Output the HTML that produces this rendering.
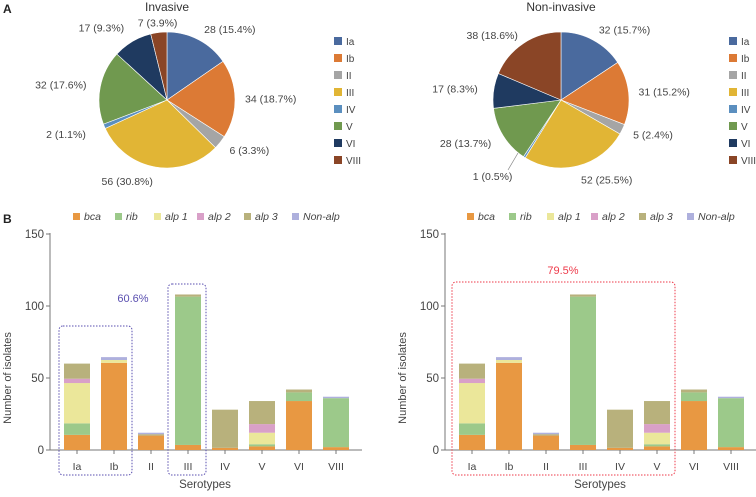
<!DOCTYPE html>
<html><head><meta charset="utf-8"><style>
body{margin:0;background:#fff;font-family:"Liberation Sans",sans-serif;}
svg text{font-family:"Liberation Sans",sans-serif;}
</style></head><body>
<svg id="c" width="756" height="492" viewBox="0 0 756 492" xmlns="http://www.w3.org/2000/svg">
<text x="3" y="13" font-size="12" font-weight="bold" fill="#222">A</text>
<text x="3" y="223" font-size="12" font-weight="bold" fill="#222">B</text>
</svg>
<script>
const serotypes=['Ia','Ib','II','III','IV','V','VI','VIII'];
const pieColors=['#4a6a9e','#dc7a35','#a5a5a5','#e1b535','#5b8fbf','#70994f','#1f3a60','#8a4526'];
const invasiveCounts=[28,34,6,56,2,32,17,7];
const invasivePct=['15.4','18.7','3.3','30.8','1.1','17.6','9.3','3.9'];
const nonInvasiveCounts=[32,31,5,52,1,28,17,38];
const nonInvasivePct=['15.7','15.2','2.4','25.5','0.5','13.7','8.3','18.6'];
const geneNames=['bca','rib','alp 1','alp 2','alp 3','Non-alp'];
const geneColors=['#e89842','#9cc98a','#ebe79a','#d9a0c8','#b8b17c','#aeb0dd'];
const bca=[10.5,60.5,10,3.5,1.5,2.5,34,2];
const rib=[8,0,0,103,0,1.5,6,34];
const alp1=[28,2,0,0,0,8,0,0];
const alp2=[3,0,0,0,0,6,0,0];
const alp3=[10.5,0,1,1.5,26.5,16,2,0];
const nonAlp=[0,2,1,0,0,0,0,1];
const yTicks=[0,50,100,150];
const pctLeft='60.6%', pctRight='79.5%';

const svg=document.getElementById('c');
const NS='http://www.w3.org/2000/svg';
function mk(tag,attrs,parent){const e=document.createElementNS(NS,tag);for(const k in attrs)e.setAttribute(k,attrs[k]);(parent||svg).appendChild(e);return e;}
function txt(x,y,s,attrs){const t=mk('text',Object.assign({x:x,y:y,'font-size':11,fill:'#444'},attrs||{}));t.textContent=s;return t;}

function pie(cx,cy,r,counts,pcts,title,lx,labelPos){
  const g=mk('g',{});
  
  
  const tt=txt(cx,11,title,{'text-anchor':'middle','font-size':12,fill:'#333'});
  
  
  const total=counts.reduce((a,b)=>a+b,0);
  let a0=0;
  counts.forEach((v,i)=>{
    const a1=a0+v/total*2*Math.PI;
    const x0=cx+r*Math.sin(a0),y0=cy-r*Math.cos(a0),x1=cx+r*Math.sin(a1),y1=cy-r*Math.cos(a1);
    const p=mk('path',{d:`M${cx},${cy}L${x0},${y0}A${r},${r} 0 ${a1-a0>Math.PI?1:0} 1 ${x1},${y1}Z`,fill:pieColors[i],stroke:'#fff','stroke-width':0.6},g);
    
    
    const am=(a0+a1)/2;
    const lr=r+labelPos[i];
    const lxp=cx+lr*Math.sin(am), lyp=cy-lr*Math.cos(am)+4;
    const anchor=Math.sin(am)>0.15?'start':(Math.sin(am)<-0.15?'end':'middle');
    const l=txt(lxp,lyp,v+' ('+pcts[i]+'%)',{'text-anchor':anchor,'font-size':10.5},);
    
    
    a0=a1;
  });
  serotypes.forEach((s,i)=>{
    const y=37+i*17;
    const sq=mk('rect',{x:lx,y:y,width:8,height:8,fill:pieColors[i]});
    
    
    const t=txt(lx+12,y+8,s,{'font-size':10});
    
    
  });
}
pie(167,100,68,invasiveCounts,invasivePct,'Invasive',334,[12,10,12,14,20,14,16,10]);
pie(561,100,68,nonInvasiveCounts,nonInvasivePct,'Non-invasive',729,[12,10,12,14,22,14,16,10]);
const ll=mk('line',{x1:518,y1:153,x2:508,y2:170,stroke:'#888','stroke-width':0.7});



function barChart(ox,legendXs,box){
  const ax=ox+50, y0=450, k=1.44;
  const Y=v=>y0-v*k;
  const X=i=>ox+77+i*37;
  const g=mk('g',{});
  
  
  geneNames.forEach((n,i)=>{
    const sq=mk('rect',{x:ox+legendXs[i],y:213,width:7,height:7,fill:geneColors[i]},g);
    
    
    const t=txt(ox+legendXs[i]+11,220,n,{'font-style':'italic','font-size':10.5});
    
    
  });
  const yax=mk('line',{x1:ax,y1:233,x2:ax,y2:y0,stroke:'#777','stroke-width':1},g);
  
  
  const xax=mk('line',{x1:ax,y1:y0,x2:ox+362,y2:y0,stroke:'#777','stroke-width':1},g);
  
  
  yTicks.forEach(v=>{
    const tk=mk('line',{x1:ax-4,y1:Y(v),x2:ax,y2:Y(v),stroke:'#777'},g);
    
    
    const t=txt(ax-6,Y(v)+4,String(v),{'text-anchor':'end','font-size':11.5});
    
    
  });
  const yt=txt(0,0,'Number of isolates',{'text-anchor':'middle','font-size':11,transform:`translate(${ox+11},${Y(50)}) rotate(-90)`});
  
  
  const series=[bca,rib,alp1,alp2,alp3,nonAlp];
  serotypes.forEach((s,i)=>{
    let acc=0;
    series.forEach((arr,j)=>{
      const v=arr[i]; if(!v) return;
      const r=mk('rect',{x:X(i)-13,y:Y(acc+v),width:26,height:v*k,fill:geneColors[j]},g);
      
      
      acc+=v;
    });
    const tk=mk('line',{x1:X(i),y1:y0,x2:X(i),y2:y0+4,stroke:'#777'},g);
    
    
    const t=txt(X(i),470,s,{'text-anchor':'middle','font-size':10.5});
    
    
  });
  const xt=txt(ox+205,488,'Serotypes',{'text-anchor':'middle','font-size':11.5});
  
  
  box.rects.forEach(b=>{
    const r=mk('rect',{x:ox+b[0],y:b[1],width:b[2]-b[0],height:b[3]-b[1],rx:4,fill:'none',stroke:box.color,'stroke-width':1,'stroke-dasharray':'1.5,1.5'},g);
    
    
  });
  const pt=txt(ox+box.lx,box.ly,box.label,{'text-anchor':'middle','font-size':11,fill:box.color});
  
  
}
barChart(0,[73,115,154,197,244,292],{color:'#5a4fb0',label:pctLeft,lx:133,ly:302,rects:[[59,326,132,475],[168,284,206,475]]});
barChart(395,[72,114,152,196,244,292],{color:'#ee3a4a',label:pctRight,lx:168,ly:274,rects:[[57,282,280,475]]});
</script>
</body></html>
